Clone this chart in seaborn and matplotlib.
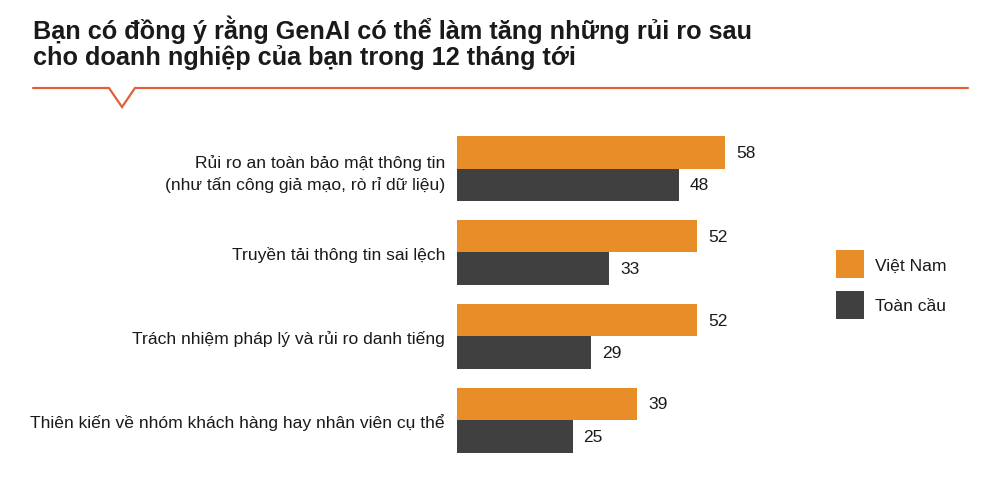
import matplotlib
matplotlib.use("Agg")
import matplotlib.pyplot as plt
from matplotlib.lines import Line2D
from matplotlib.patches import Patch
import seaborn as sns
import pandas as pd

categories = [
    "Rủi ro an toàn bảo mật thông tin\n(như tấn công giả mạo, rò rỉ dữ liệu)",
    "Truyền tải thông tin sai lệch",
    "Trách nhiệm pháp lý và rủi ro danh tiếng",
    "Thiên kiến về nhóm khách hàng hay nhân viên cụ thể",
]
series_names = ["Việt Nam", "Toàn cầu"]
vietnam = [58, 52, 52, 39]
global_vals = [48, 33, 29, 25]

title_lines = ["Bạn có đồng ý rằng GenAI có thể làm tăng những rủi ro sau",
               "cho doanh nghiệp của bạn trong 12 tháng tới"]

ORANGE = "#E88D27"
DARK = "#404040"
LINE = "#E0603A"
TEXT = "#1a1a1a"

df = pd.DataFrame({
    "category": categories * 2,
    "series": [series_names[0]] * 4 + [series_names[1]] * 4,
    "value": vietnam + global_vals,
})

sns.set_theme(style="white")
plt.rcParams["font.family"] = ["Liberation Sans", "DejaVu Sans"]

W, H = 1000, 481
fig = plt.figure(figsize=(W / 100, H / 100), dpi=100)
fig.patch.set_facecolor("white")

# axes in pixel coordinates
ax_left, ax_right = 457, 800
ax_top, ax_bottom = 127.6, 463
ax = fig.add_axes([ax_left / W, 1 - ax_bottom / H, (ax_right - ax_left) / W, (ax_bottom - ax_top) / H])

sns.barplot(data=df, y="category", x="value", hue="series", order=categories,
            hue_order=series_names, palette=[ORANGE, DARK], width=0.774,
            orient="h", ax=ax, legend=False, linewidth=0, saturation=1)

ax.set_xlim(0, (ax_right - ax_left) / 4.62)
ax.set_ylim(3.5, -0.5)
ax.set_xlabel("")
ax.set_ylabel("")
ax.set_xticks([])
for s in ax.spines.values():
    s.set_visible(False)
ax.tick_params(axis="y", length=0, pad=8.6, labelsize=12.6, labelcolor=TEXT)
for lbl in ax.get_yticklabels():
    lbl.set_horizontalalignment("right")
    lbl.set_multialignment("right")
    lbl.set_linespacing(1.45)

for cont in ax.containers:
    ax.bar_label(cont, fmt="%d", padding=8, fontsize=12.5, color=TEXT)

# legend
handles = [Patch(facecolor=ORANGE, edgecolor="none"), Patch(facecolor=DARK, edgecolor="none")]
fig.legend(handles, series_names, loc="upper left", bbox_to_anchor=(835.5 / W, 1 - 251 / H),
           frameon=False, fontsize=12.6, handlelength=1.6, handleheight=2.085,
           labelspacing=0.74, handletextpad=0.64, borderpad=0, borderaxespad=0,
           labelcolor=TEXT)

# title (two lines, placed by baseline)
for i, line in enumerate(title_lines):
    fig.text(33 / W, 1 - (38.5 + 26.5 * i) / H, line, ha="left", va="baseline",
             fontsize=18.2, fontweight="bold", color=TEXT)

# header line with notch
xs = [33, 109, 122, 135, 968]
ys = [89, 89, 108, 89, 89]
fig.add_artist(Line2D([x / W for x in xs], [1 - y / H for y in ys], color=LINE,
                      linewidth=1.6, solid_joinstyle="miter", transform=fig.transFigure))

fig.savefig("out.png", dpi=100, facecolor="white")
